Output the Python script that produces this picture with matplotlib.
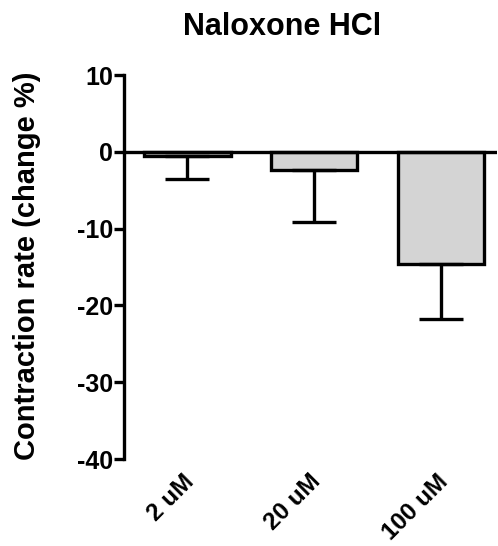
import matplotlib
matplotlib.use("Agg")
import matplotlib.pyplot as plt
from matplotlib.transforms import ScaledTranslation

categories = ["2 uM", "20 uM", "100 uM"]
means = [-0.5, -2.4, -14.6]
errors = [3.0, 6.7, 7.2]
yticks = [10, 0, -10, -20, -30, -40]

plt.rcParams['font.family'] = ['Liberation Sans', 'DejaVu Sans']
plt.rcParams['font.weight'] = 'bold'

fig = plt.figure(figsize=(4.98, 5.46), dpi=100)
ax = fig.add_axes([0.249, 0.1593, 0.749, 0.7033])

lw = 2.4
x = list(range(len(categories)))
ax.bar(x, means, width=0.68, color='#d4d4d4', edgecolor='black', linewidth=lw, zorder=2)
ax.errorbar(x, means, yerr=[[e for e in errors], [0]*len(errors)], fmt='none',
            ecolor='black', elinewidth=lw, capsize=16, capthick=lw, zorder=3)
ax.axhline(0, color='black', linewidth=lw, zorder=4)

ax.set_xlim(-0.5, 2.44)
ax.set_ylim(-40, 10)
ax.set_yticks(yticks)
ax.set_yticklabels([str(t) for t in yticks], fontsize=18, fontweight='bold')
ax.set_xticks(x)
ax.set_xticklabels(categories, rotation=45, ha='right', rotation_mode='anchor',
                   fontsize=17.5, fontweight='bold')
ax.tick_params(axis='x', length=0, pad=8)
ax.tick_params(axis='y', width=lw, length=7, pad=1)
offset = ScaledTranslation(-5/100, 0, fig.dpi_scale_trans)
for lab in ax.get_xticklabels():
    lab.set_transform(lab.get_transform() + offset)

for s in ['top', 'right', 'bottom']:
    ax.spines[s].set_visible(False)
ax.spines['left'].set_linewidth(lw)

ax.set_ylabel("Contraction rate (change %)", fontsize=21, fontweight='bold')
ax.yaxis.set_label_coords(-0.222, 0.504)
fig.text(0.566, 0.951, "Naloxone HCl", ha='center', va='center', fontsize=22, fontweight='bold')

fig.savefig("out.png", dpi=100)
